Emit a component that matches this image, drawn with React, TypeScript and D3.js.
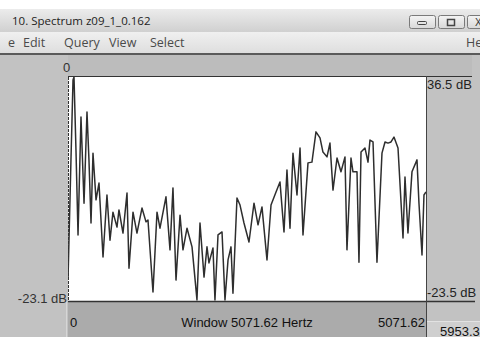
import React from 'react';
import * as d3 from 'd3';

// spectrum: frequency (Hz) and level (dB)
const spectrumHz = [
  0, 42, 71, 85, 113, 142, 184, 227, 269, 297, 326, 354, 397, 439, 496, 552, 595, 637, 694, 722,
  779, 836, 864, 921, 977, 1048, 1105, 1133, 1204, 1261, 1303, 1388, 1445, 1487, 1530, 1587, 1629,
  1686, 1757, 1827, 1870, 1927, 1969, 1997, 2054, 2082, 2125, 2182, 2224, 2267, 2309, 2337, 2394,
  2437, 2493, 2564, 2635, 2692, 2748, 2819, 2876, 2947, 3003, 3060, 3102, 3145, 3187, 3244, 3287,
  3329, 3400, 3456, 3513, 3570, 3612, 3669, 3711, 3754, 3811, 3867, 3924, 3952, 4009, 4037, 4094,
  4122, 4151, 4207, 4250, 4278, 4321, 4377, 4448, 4491, 4533, 4576, 4618, 4675, 4746, 4774, 4816,
  4873, 4944, 4972, 5015, 5043, 5071,
];
const spectrumDb = [
  -17.9, 14.3, 35.7, 36.5, 16.9, -5.8, 25.8, 2.7, 27.1, 14.3, -2.6, 16.1, 3.6, 8.1, -11.7, 4.9, -7.2, 0.3, -3.7, 0.9,
  -5.3, 5.4, -14.7, 0.3, -5.3, 1.4, -2.3, -1.8, -21.1, 0.3, -4.0, 4.4, -9.8, 6.8, -17.9, -0.5, -9.8,
  -4.0, -9.0, -23.2, -2.6, -17.1, -9.0, -13.3, -9.3, -23.2, -5.8, -5.0, -23.2, -12.5, -9.0, -21.4, 4.1,
  2.2, -2.6, -7.7, 2.7, -3.1, 1.7, -12.5, 2.2, 5.7, 8.4, -5.0, 11.6, -4.0, 16.1, 4.9, 17.5,
  -5.8, 13.5, 13.7, 21.8, 20.2, 16.4, 15.1, 18.8, 6.2, 14.8, 11.1, 15.1, -9.8, 14.8, 11.1, 11.1,
  -13.1, 16.4, 17.5, 13.7, 19.6, 19.1, -13.1, 16.1, 19.1, 18.8, 19.1, 20.4, 17.5, -6.6, 9.7, -5.3,
  11.1, 14.3, 2.7, -11.2, 4.9, 5.7,
];

const windowTitle = '10. Spectrum z09_1_0.162';
const menuItems = ['e', 'Edit', 'Query', 'View', 'Select'];
const menuX = [8, 23, 64, 109, 150];

const fMax = 5071.62;
const dbTop = 36.5;
const dbBottom = -23.5;

const font = '"Liberation Sans", Arial, sans-serif';
const uiFont = '"Open Sans", "Noto Sans", sans-serif';

const App: React.FC = () => {
  const left = 68;
  const right = 426;
  const top = 77;
  const bottom = 301;

  const x = d3.scaleLinear().domain([0, fMax]).range([left, right]);
  const y = d3.scaleLinear().domain([dbBottom, dbTop]).range([bottom, top]);

  const pts = spectrumHz.map((f, i) => [f, spectrumDb[i]] as [number, number]);
  const line = d3.line<[number, number]>()
    .x(d => x(d[0]))
    .y(d => y(d[1]));

  return (
    <div style={{ position: 'absolute', left: 0, top: 0 }}>
      <svg width={480} height={337} style={{ display: 'block' }}>
        <defs>
          <linearGradient id="title" x1="0" y1="0" x2="0" y2="1">
            <stop offset="0" stopColor="#ececec" />
            <stop offset="1" stopColor="#d0d0d0" />
          </linearGradient>
          <linearGradient id="menu" x1="0" y1="0" x2="0" y2="1">
            <stop offset="0" stopColor="#f0f0f0" />
            <stop offset="1" stopColor="#dedede" />
          </linearGradient>
          <linearGradient id="btn" x1="0" y1="0" x2="0" y2="1">
            <stop offset="0" stopColor="#f4f4f4" />
            <stop offset="1" stopColor="#d8d8d8" />
          </linearGradient>
          <clipPath id="plotClip">
            <rect x={left} y={top} width={right - left} height={bottom - top} />
          </clipPath>
        </defs>

        <rect x={0} y={0} width={480} height={337} fill="#ffffff" />

        {/* title bar */}
        <rect x={0} y={9} width={480} height={23} fill="url(#title)" />
        <text x={12} y={25} fontFamily={uiFont} fontSize={11.5} fill="#222">{windowTitle}</text>
        {[409, 438, 467].map((bx, i) => (
          <g key={bx}>
            <rect x={bx + 0.5} y={15.5} width={26} height={13} rx={2} fill="url(#btn)" stroke="#7a7a7a" />
            {i === 0 && <rect x={bx + 8.5} y={21.5} width={9} height={3} rx={1} fill="none" stroke="#444" />}
            {i === 1 && <rect x={bx + 9.5} y={19.5} width={7} height={6} fill="none" stroke="#444" strokeWidth={1.5} />}
            {i === 2 && <text x={bx + 8} y={26} fontFamily={font} fontSize={10} fill="#333">X</text>}
          </g>
        ))}

        {/* menu bar */}
        <rect x={0} y={32} width={480} height={21} fill="url(#menu)" />
        {menuItems.map((m, i) => (
          <text key={m} x={menuX[i]} y={47} fontFamily={uiFont} fontSize={12.5} fill="#4a4a4a">{m}</text>
        ))}
        <text x={466} y={47} fontFamily={uiFont} fontSize={12.5} fill="#4a4a4a">He</text>
        <rect x={0} y={53} width={480} height={2} fill="#5a5a5a" />

        {/* window panes */}
        <rect x={0} y={55} width={480} height={282} fill="#c2c2c2" />
        <rect x={left} y={55} width={right - left + 46} height={22} fill="#bcbcbc" />
        <rect x={left} y={bottom + 1} width={right - left} height={35} fill="#ababab" />
        <rect x={427} y={322} width={53} height={15} fill="#cfcfcf" />
        <line x1={427} x2={480} y1={321.5} y2={321.5} stroke="#e2e2e2" />
        <line x1={66.5} x2={66.5} y1={bottom} y2={337} stroke="#d6d6d6" />

        {/* plot */}
        <rect x={left} y={top} width={right - left} height={bottom - top} fill="#ffffff" />
        <path d={line(pts) ?? ''} fill="none" stroke="#2e2e2e" strokeWidth={1.5}
          strokeLinejoin="round" clipPath="url(#plotClip)" />

        <line x1={left} x2={472} y1={top - 0.5} y2={top - 0.5} stroke="#333" />
        <line x1={left} x2={475} y1={bottom + 0.5} y2={bottom + 0.5} stroke="#333" strokeWidth={1.6} />
        <line x1={left + 0.5} x2={left + 0.5} y1={top} y2={bottom} stroke="#333" strokeDasharray="3,1" />
        <line x1={right + 0.5} x2={right + 0.5} y1={top - 1} y2={337} stroke="#444" />

        {/* labels */}
        <text x={63} y={72} fontFamily={font} fontSize={13} fill="#333">0</text>
        <text x={427} y={89} fontFamily={font} fontSize={13} fill="#222">{`${dbTop} dB`}</text>
        <text x={427} y={297} fontFamily={font} fontSize={13} fill="#222">{`${dbBottom} dB`}</text>
        <text x={67} y={303} textAnchor="end" fontFamily={font} fontSize={13} fill="#333">-23.1 dB</text>
        <text x={x(0) + 2} y={327} fontFamily={font} fontSize={13} fill="#111">0</text>
        <text x={(left + right) / 2} y={327} textAnchor="middle" fontFamily={font} fontSize={13} fill="#111">
          {`Window ${fMax} Hertz`}
        </text>
        <text x={x(fMax) - 1} y={327} textAnchor="end" fontFamily={font} fontSize={13} fill="#111">{`${fMax}`}</text>
        <text x={440} y={336} fontFamily={font} fontSize={13} fill="#111">5953.3</text>
      </svg>
    </div>
  );
};

export default App;
